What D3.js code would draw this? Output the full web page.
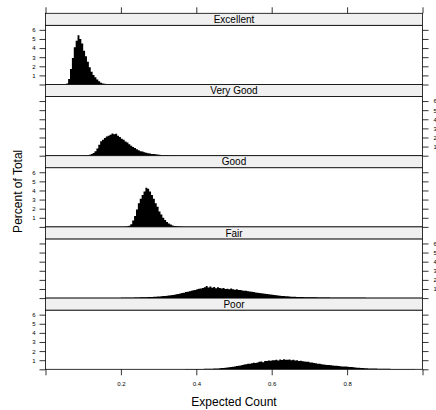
<!DOCTYPE html>
<html>
<head>
<meta charset="utf-8">
<script src="https://cdn.jsdelivr.net/npm/d3@7"></script>
<style>
  body { margin: 0; background: #fff; }
  svg { font-family: "Liberation Sans", Arial, sans-serif; }
</style>
</head>
<body>
<div id="chart"></div>
<script>
// panel names, top to bottom
var categories = ["Excellent", "Very Good", "Good", "Fair", "Poor"];

// histogram bins: width of a bin and where each series starts
var binWidth = 0.005;
var binStarts = [0.055, 0.105, 0.210, 0.170, 0.350];

// percent of total per bin
var excellentPct = [0.1, 0.6, 1.7, 2.9, 4.1, 4.8, 5.4, 5.0, 4.5, 3.7, 3.1, 2.5, 1.9, 1.4, 1.05, 0.8,
    0.55, 0.35, 0.2, 0.12, 0.07, 0.04];

var veryGoodPct = [0.02, 0.05, 0.1, 0.18, 0.3, 0.5, 0.8, 1.2, 1.6, 1.75,
    1.95, 2.1, 2.2, 2.3, 2.45, 2.35, 2.4, 2.2, 2.05, 1.85,
    1.75, 1.55, 1.45, 1.25, 1.1, 0.95, 0.85, 0.7, 0.6, 0.5,
    0.45, 0.38, 0.32, 0.28, 0.24, 0.2, 0.18, 0.15, 0.12, 0.1,
    0.08, 0.07, 0.05, 0.04, 0.03, 0.02, 0.02];

var goodPct = [0.02, 0.05, 0.12, 0.3, 0.7, 1.2, 1.9, 2.6, 3.1, 3.5,
    3.9, 4.3, 4.2, 3.9, 3.5, 3.1, 2.6, 2.2, 1.7, 1.35,
    1.0, 0.75, 0.55, 0.38, 0.25, 0.16, 0.1, 0.06, 0.04, 0.02, 0.01];

var fairPct = [0.01, 0.01, 0.01, 0.02, 0.02, 0.02, 0.03, 0.03, 0.03, 0.04,
    0.04, 0.05, 0.05, 0.06, 0.06, 0.07, 0.08, 0.08, 0.09, 0.1,
    0.11, 0.12, 0.13, 0.14, 0.15, 0.17, 0.18, 0.2, 0.22, 0.24,
    0.26, 0.28, 0.3, 0.33, 0.36, 0.42, 0.45, 0.5, 0.56, 0.6,
    0.66, 0.7, 0.74, 0.82, 0.86, 0.9, 0.98, 1.02, 1.06, 1.12,
    1.2, 1.32, 1.16, 1.28, 1.14, 1.22, 1.08, 1.18, 1.1, 1.06,
    1.12, 1.0, 1.04, 0.98, 1.06, 0.96, 0.92, 0.97, 0.88, 0.9,
    0.84, 0.8, 0.82, 0.74, 0.72, 0.7, 0.66, 0.62, 0.6, 0.56,
    0.54, 0.5, 0.48, 0.46, 0.42, 0.4, 0.36, 0.34, 0.3, 0.28,
    0.26, 0.24, 0.22, 0.2, 0.19, 0.18, 0.16, 0.15, 0.14, 0.13,
    0.12, 0.12, 0.11, 0.1, 0.1, 0.09, 0.09, 0.08, 0.08, 0.08,
    0.07, 0.07, 0.07, 0.06, 0.06, 0.06, 0.06, 0.05, 0.05, 0.05,
    0.05, 0.05, 0.04, 0.04, 0.04, 0.04, 0.04, 0.04, 0.03, 0.03,
    0.03, 0.03, 0.03, 0.03, 0.03, 0.03, 0.02, 0.02, 0.02, 0.02,
    0.02, 0.02, 0.02, 0.02, 0.02, 0.02, 0.02, 0.01, 0.01, 0.01,
    0.01, 0.01, 0.01, 0.01, 0.01, 0.01, 0.01, 0.01, 0.01, 0.01, 0.01];

var poorPct = [0.01, 0.01, 0.01, 0.01, 0.02, 0.02, 0.02, 0.02, 0.03, 0.03,
    0.03, 0.03, 0.04, 0.04, 0.05, 0.05, 0.06, 0.07, 0.07, 0.08,
    0.09, 0.1, 0.11, 0.13, 0.15, 0.17, 0.19, 0.22, 0.25, 0.28,
    0.31, 0.35, 0.4, 0.42, 0.48, 0.52, 0.56, 0.6, 0.62, 0.66,
    0.72, 0.7, 0.76, 0.82, 0.86, 0.78, 0.9, 0.92, 0.96, 0.94,
    1.0, 0.98, 1.04, 0.96, 1.08, 1.02, 1.1, 1.04, 1.06, 1.08,
    1.0, 1.04, 0.96, 1.0, 0.92, 0.94, 0.88, 0.86, 0.84, 0.82,
    0.76, 0.74, 0.7, 0.66, 0.62, 0.6, 0.56, 0.52, 0.5, 0.48,
    0.46, 0.44, 0.42, 0.4, 0.38, 0.36, 0.34, 0.32, 0.31, 0.3,
    0.28, 0.26, 0.24, 0.22, 0.2, 0.18, 0.16, 0.15, 0.14, 0.12,
    0.11, 0.1, 0.09, 0.09, 0.08, 0.08, 0.07, 0.07, 0.06, 0.06,
    0.05, 0.05, 0.05, 0.04, 0.04, 0.04, 0.04, 0.03, 0.03, 0.03,
    0.03, 0.03, 0.02, 0.02, 0.02, 0.02];

var seriesValues = [excellentPct, veryGoodPct, goodPct, fairPct, poorPct];

var xTicks = [0, 0.2, 0.4, 0.6, 0.8, 1.0];
var xTickLabels = ["", "0.2", "0.4", "0.6", "0.8", ""];
var yTicks = [0, 1, 2, 3, 4, 5, 6];
var yTickLabels = ["", "1", "2", "3", "4", "5", "6"];

var width = 436,
    height = 410;

var plotLeft = 45.5, plotRight = 422.5, plotTop = 13.3;
var blockHeight = 71.2, stripHeight = 12;

var svg = d3.select("#chart").append("svg")
    .attr("width", width)
    .attr("height", height);

var x = d3.scaleLinear()
    .domain([0, 1])
    .range([plotLeft, plotRight]);

var plotBottom = plotTop + blockHeight * categories.length;

categories.forEach(function(cat, i) {
    var blockTop = plotTop + i * blockHeight;
    var panelTop = blockTop + stripHeight;
    var panelBottom = blockTop + blockHeight;

    var y = d3.scaleLinear()
        .domain([0, 6.5])
        .range([panelBottom, panelTop]);

    var g = svg.append("g").attr("class", "panel");

    // histogram as a stepped area
    var vals = seriesValues[i];
    var pts = vals.map(function(v, j) {
        return {x: binStarts[i] + j * binWidth, y: v};
    });
    pts.push({x: binStarts[i] + vals.length * binWidth, y: vals[vals.length - 1]});

    var area = d3.area()
        .x(function(d) { return x(d.x); })
        .y0(y(0))
        .y1(function(d) { return y(d.y); })
        .curve(d3.curveStepAfter);

    g.append("path")
        .datum(pts)
        .attr("d", area)
        .attr("fill", "#000")
        .attr("stroke", "none");

    // panel box
    g.append("rect")
        .attr("x", plotLeft).attr("y", panelTop)
        .attr("width", plotRight - plotLeft).attr("height", panelBottom - panelTop)
        .attr("fill", "none").attr("stroke", "#000").attr("stroke-width", 0.8);

    // strip
    g.append("rect")
        .attr("x", plotLeft).attr("y", blockTop)
        .attr("width", plotRight - plotLeft).attr("height", stripHeight)
        .attr("fill", "#f0f0f0").attr("stroke", "#000").attr("stroke-width", 0.8);
    g.append("text")
        .attr("x", (plotLeft + plotRight) / 2)
        .attr("y", blockTop + stripHeight / 2 + 3.6)
        .attr("text-anchor", "middle")
        .style("font-size", "10px")
        .text(cat);

    // y ticks on both sides, labels alternate
    var leftAxis = d3.axisLeft(y).tickValues(yTicks).tickSize(6).tickSizeOuter(0)
        .tickFormat(function(d, k) { return i % 2 == 0 ? yTickLabels[k] : ""; });
    var rightAxis = d3.axisRight(y).tickValues(yTicks).tickSize(6).tickSizeOuter(0)
        .tickFormat(function(d, k) { return i % 2 == 1 ? yTickLabels[k] : ""; });

    var la = g.append("g").attr("transform", "translate(" + plotLeft + ",0)").call(leftAxis);
    var ra = g.append("g").attr("transform", "translate(" + plotRight + ",0)").call(rightAxis);
    [la, ra].forEach(function(a) {
        a.select(".domain").remove();
        a.selectAll("line").attr("stroke", "#000").attr("stroke-width", 0.8);
        a.selectAll("text").style("font-size", "6px").attr("fill", "#000")
            .style("font-family", "Liberation Sans, Arial, sans-serif");
    });
    la.selectAll("text").attr("x", -11.5).attr("text-anchor", "middle");
    ra.selectAll("text").attr("x", 11);
});

// x axes: top ticks only, bottom with labels
var topAxis = d3.axisTop(x).tickValues(xTicks).tickSize(6).tickSizeOuter(0).tickFormat("");
var bottomAxis = d3.axisBottom(x).tickValues(xTicks).tickSize(6).tickSizeOuter(0)
    .tickFormat(function(d, k) { return xTickLabels[k]; });

var ta = svg.append("g").attr("transform", "translate(0," + plotTop + ")").call(topAxis);
var ba = svg.append("g").attr("transform", "translate(0," + plotBottom + ")").call(bottomAxis);
[ta, ba].forEach(function(a) {
    a.select(".domain").remove();
    a.selectAll("line").attr("stroke", "#000").attr("stroke-width", 0.8);
});
ba.selectAll("text")
    .attr("y", 12)
    .style("font-size", "6px")
    .style("font-family", "Liberation Sans, Arial, sans-serif")
    .attr("fill", "#000");

// axis titles
svg.append("text")
    .attr("x", (plotLeft + plotRight) / 2)
    .attr("y", 406)
    .attr("text-anchor", "middle")
    .style("font-size", "12px")
    .text("Expected Count");

svg.append("text")
    .attr("transform", "translate(22," + ((plotTop + plotBottom) / 2) + ") rotate(-90)")
    .attr("text-anchor", "middle")
    .style("font-size", "12px")
    .text("Percent of Total");
</script>
</body>
</html>
